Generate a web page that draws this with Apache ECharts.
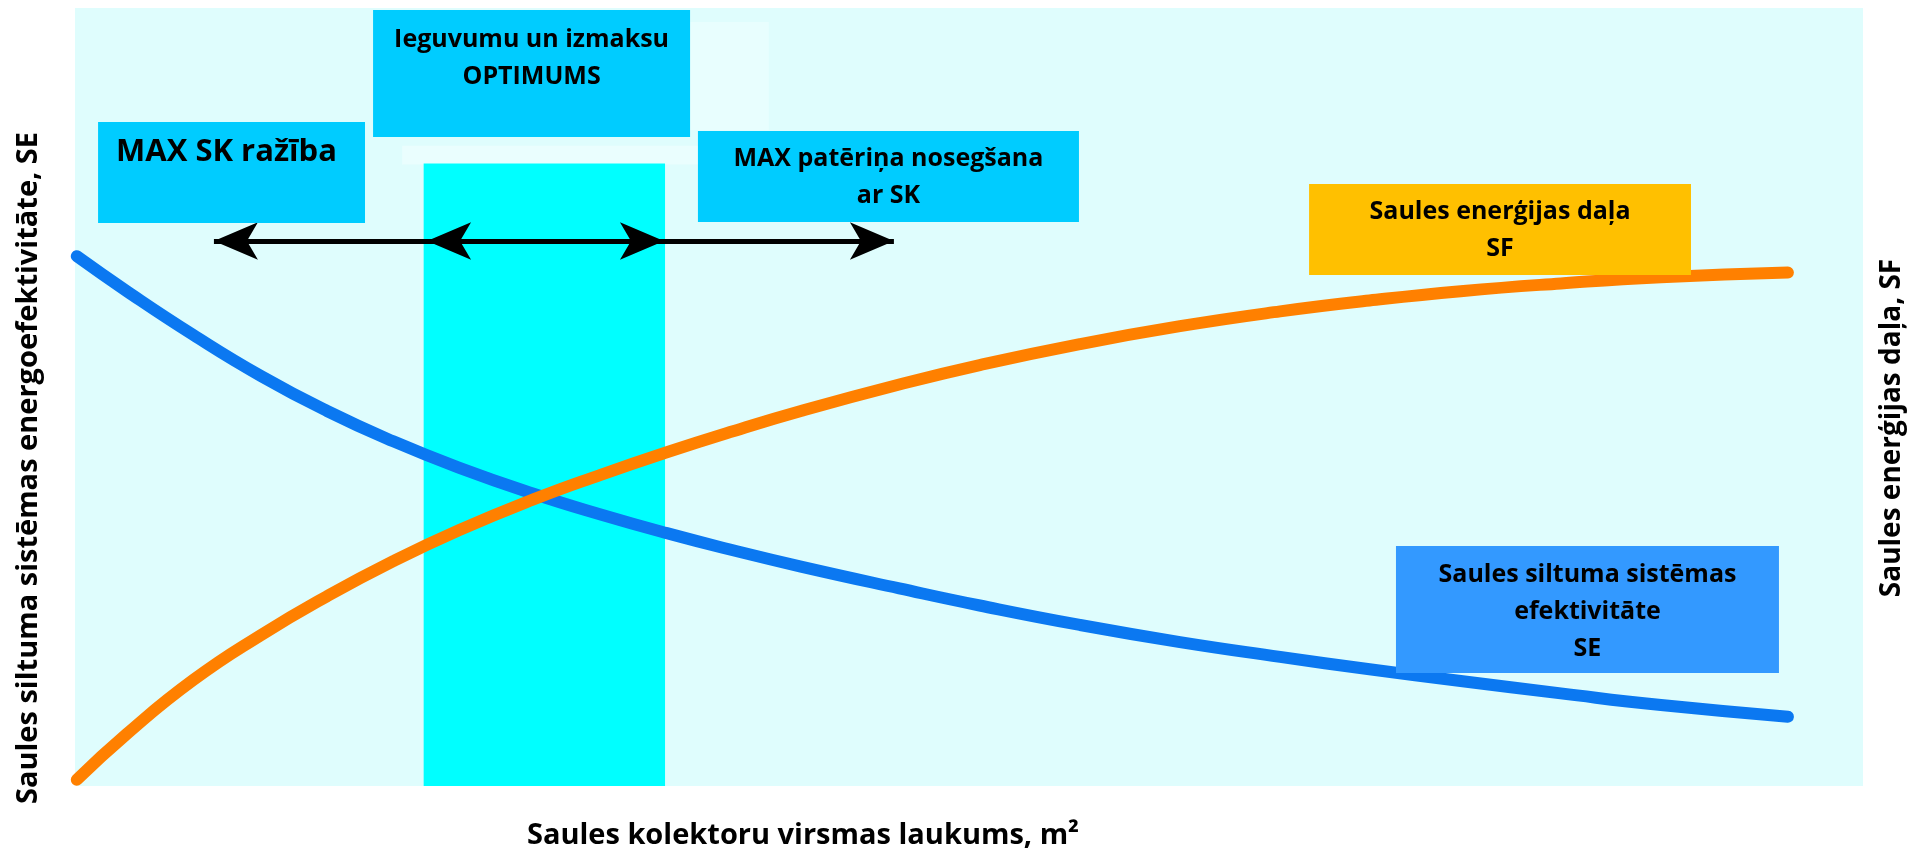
<!DOCTYPE html>
<html>
<head>
<meta charset="utf-8">
<script src="https://cdn.jsdelivr.net/npm/echarts@6/dist/echarts.min.js"></script>
<style>
  html, body { margin: 0; padding: 0; background: #ffffff; }
  #chart { width: 1919px; height: 856px; }
</style>
</head>
<body>
<div id="chart"></div>
<script>
// Collector area (relative units along the x axis)
const collectorArea = [0.1, 2.9, 6.6, 10.4, 14.1, 17.8, 21.5, 25.6, 29.4, 33.1, 36.8, 40.6,
                       46.1, 50.6, 56.2, 61.8, 67.4, 72.4, 77.5, 83.1, 88.7, 95.8];
// Solar heating system efficiency, SE (relative units)
const efficiencySE = [68.1, 63.6, 58.0, 52.7, 48.2, 44.3, 40.9, 37.6, 34.9, 32.5, 30.3, 28.2,
                      25.4, 23.2, 20.7, 18.5, 16.6, 15.0, 13.5, 11.9, 10.4, 8.9];
// Solar fraction, SF (relative units)
const solarFractionSF = [0.8, 6.7, 13.6, 19.4, 24.4, 28.9, 32.9, 36.8, 40.0, 42.9, 45.6, 48.2,
                         51.6, 54.1, 56.8, 59.1, 61.0, 62.4, 63.6, 64.6, 65.4, 66.0];
// Optimum range of collector area
const optimumRange = [19.5, 33.0];

const axisTitles = {
  x: 'Saules kolektoru virsmas laukums, m²',
  left: 'Saules siltuma sistēmas energoefektivitāte, SE',
  right: 'Saules enerģijas daļa, SF'
};
const noteTexts = {
  maxYield: 'MAX SK ražība',
  optimum: 'Ieguvumu un izmaksu\nOPTIMUMS',
  maxCover: 'MAX patēriņa nosegšana\nar SK',
  sf: 'Saules enerģijas daļa\nSF',
  se: 'Saules siltuma sistēmas\nefektivitāte\nSE'
};

const FONT = '"Open Sans", "Noto Sans", sans-serif';

function zip(xs, ys) { return xs.map((x, i) => [x, ys[i]]); }

function noteBox(text, x0, y0, x1, y1, color, label) {
  return [
    { name: text, coord: [x0, y0], itemStyle: { color: color, opacity: 1 },
      label: Object.assign({
        show: true, color: '#000', fontFamily: FONT, fontWeight: 'bold',
        fontSize: 25, lineHeight: 37
      }, label) },
    { coord: [x1, y1] }
  ];
}

const centeredTop = (top) => ({ position: ['50%', top], align: 'center', verticalAlign: 'top' });

function titleText(text, x, y, rotation, size) {
  return {
    type: 'text', x: x, y: y, rotation: rotation, silent: true,
    style: { text: text, font: 'bold ' + size + 'px ' + FONT, fill: '#000',
             align: 'center', verticalAlign: 'middle',
             textAlign: 'center', textVerticalAlign: 'middle' }
  };
}

const chart = echarts.init(document.getElementById('chart'), null, { renderer: 'canvas' });

chart.setOption({
  animation: false,
  backgroundColor: '#ffffff',
  grid: { left: 75, right: 56, top: 8, bottom: 70, show: true,
          backgroundColor: '#dffdfd', borderWidth: 0 },
  xAxis: { type: 'value', min: 0, max: 100, show: false },
  yAxis: { type: 'value', min: 0, max: 100, show: false },
  series: [
    {
      name: 'SE',
      type: 'line',
      data: zip(collectorArea, efficiencySE),
      smooth: 0.5,
      showSymbol: false,
      z: 2,
      lineStyle: { color: '#0b78f1', width: 12, cap: 'round', join: 'round' },
      markArea: {
        silent: true,
        z: 1,
        label: { show: false },
        data: [
          [{ coord: [18.3, 82.3], itemStyle: { color: '#eafefe' } }, { coord: [38.3, 79.9] }],
          [{ coord: [34.4, 98.2], itemStyle: { color: '#e8fefe' } }, { coord: [38.8, 84.3] }],
          [{ coord: [optimumRange[0], 0], itemStyle: { color: '#00ffff' } }, { coord: [optimumRange[1], 80] }]
        ]
      }
    },
    {
      name: 'SF',
      type: 'line',
      data: zip(collectorArea, solarFractionSF),
      smooth: 0.5,
      showSymbol: false,
      z: 3,
      lineStyle: { color: '#ff8000', width: 12, cap: 'round', join: 'round' }
    },
    {
      name: 'notes',
      type: 'line',
      data: [],
      z: 6,
      markLine: {
        silent: true,
        z: 6,
        symbol: ['arrow', 'arrow'],
        symbolSize: [28, 44],
        label: { show: false },
        lineStyle: { color: '#000000', width: 5, type: 'solid' },
        data: [
          [{ coord: [7.77, 70.05] }, { coord: [45.8, 70.05] }],
          [{ coord: [19.69, 70.05] }, { coord: [32.94, 70.05] }]
        ]
      },
      markArea: {
        silent: true,
        z: 7,
        data: [
          noteBox(noteTexts.maxYield, 1.29, 85.35, 16.22, 72.37, '#00ccff',
                  { position: [18, 30], align: 'left', verticalAlign: 'middle', fontSize: 31 }),
          noteBox(noteTexts.optimum, 16.67, 99.74, 34.40, 83.42, '#00ccff', centeredTop(11)),
          noteBox(noteTexts.maxCover, 34.84, 84.19, 56.15, 72.49, '#00ccff', centeredTop(9)),
          noteBox(noteTexts.sf, 69.02, 77.38, 90.38, 65.68, '#ffc000', centeredTop(9)),
          noteBox(noteTexts.se, 73.88, 30.85, 95.30, 14.52, '#3399ff', centeredTop(10))
        ]
      }
    }
  ],
  graphic: [
    titleText(axisTitles.x, 803, 836, 0, 29),
    titleText(axisTitles.left, 29, 468, Math.PI / 2, 29),
    titleText(axisTitles.right, 1892, 428, Math.PI / 2, 28)
  ]
});
</script>
</body>
</html>
